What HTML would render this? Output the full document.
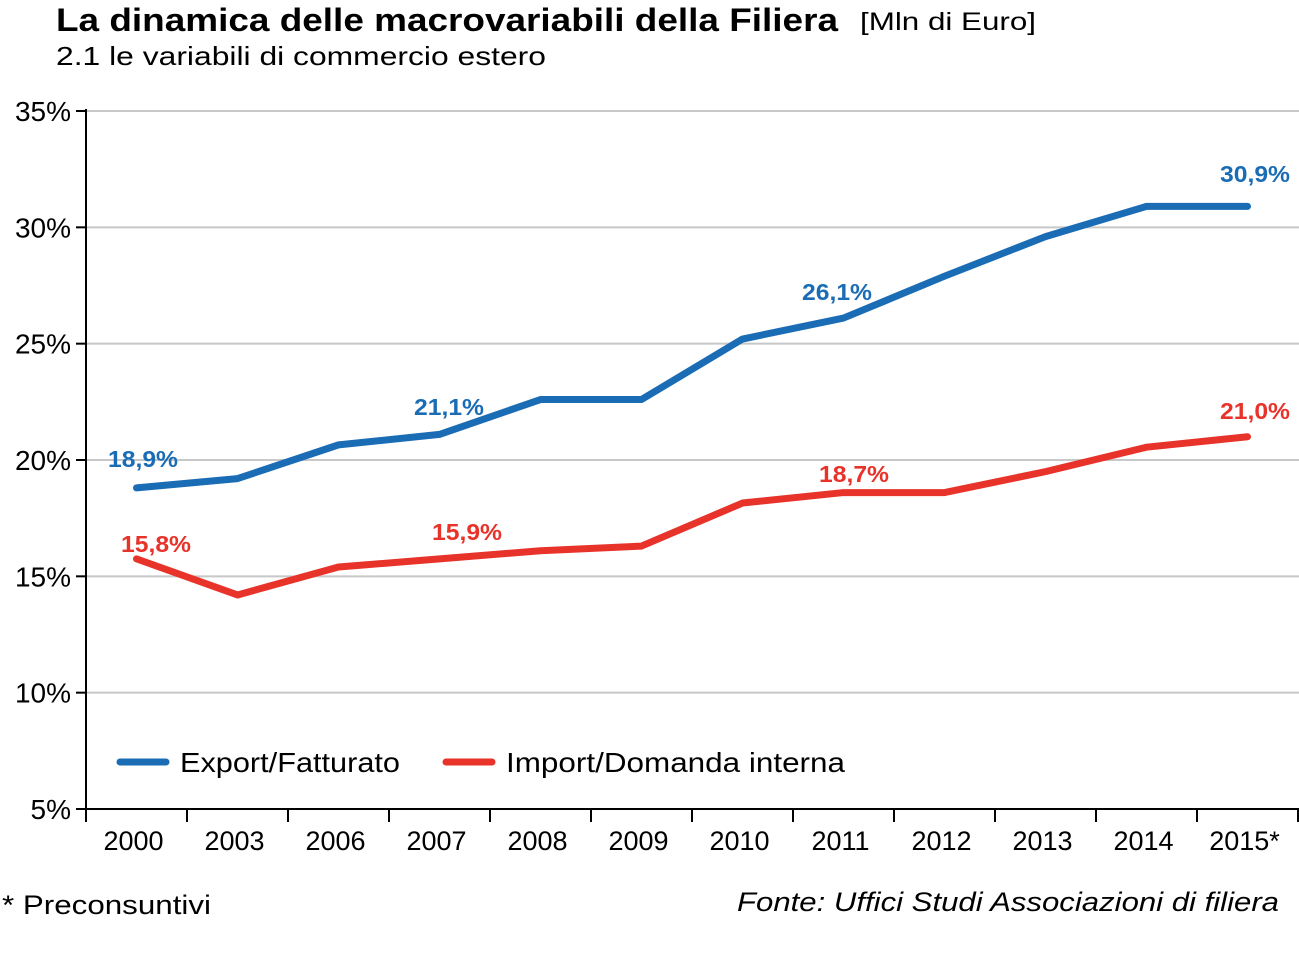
<!DOCTYPE html>
<html><head><meta charset="utf-8"><style>
body{margin:0;background:#fff;font-family:"Liberation Sans",sans-serif}
</style></head><body>
<svg width="1299" height="957" viewBox="0 0 1299 957" xmlns="http://www.w3.org/2000/svg" font-family="Liberation Sans, sans-serif">
<text x="56" y="31" font-size="32" font-weight="bold" textLength="782" lengthAdjust="spacingAndGlyphs">La dinamica delle macrovariabili della Filiera</text>
<text x="860" y="30" font-size="25" textLength="176" lengthAdjust="spacingAndGlyphs">[Mln di Euro]</text>
<text x="56" y="65" font-size="26" textLength="490" lengthAdjust="spacingAndGlyphs">2.1  le variabili di commercio estero</text>
<g id="grid"></g>
<g id="axes"></g>
<g id="series"></g>
<g>
<line x1="120" y1="762" x2="166" y2="762" stroke="#1a6cb5" stroke-width="7" stroke-linecap="round"/>
<text x="180" y="772" font-size="28" textLength="220" lengthAdjust="spacingAndGlyphs">Export/Fatturato</text>
<line x1="446" y1="762" x2="492" y2="762" stroke="#e8332a" stroke-width="7" stroke-linecap="round"/>
<text x="506" y="772" font-size="28" textLength="339" lengthAdjust="spacingAndGlyphs">Import/Domanda interna</text>
</g>
<text x="2" y="914" font-size="27" textLength="209" lengthAdjust="spacingAndGlyphs">* Preconsuntivi</text>
<text x="737" y="911" font-size="27" font-style="italic" textLength="542" lengthAdjust="spacingAndGlyphs">Fonte: Uffici Studi Associazioni di filiera</text>
</svg>
<script>
const categories=["2000","2003","2006","2007","2008","2009","2010","2011","2012","2013","2014","2015*"];
const exportVals=[18.8,19.2,20.65,21.1,22.6,22.6,25.2,26.1,27.9,29.6,30.9,30.9];
const importVals=[15.75,14.2,15.4,15.75,16.1,16.3,18.15,18.6,18.6,19.5,20.55,21.0];
const yTicks=[5,10,15,20,25,30,35];
const exportLabelIdx=[0,3,7,11];
const exportLabelText=["18,9%","21,1%","26,1%","30,9%"];
const importLabelIdx=[0,3,7,11];
const importLabelText=["15,8%","15,9%","18,7%","21,0%"];
const exportLabelPos=[[143,467],[449,415],[837,300],[1255,182]];
const importLabelPos=[[156,552],[467,540],[854,482],[1255,419]];
const NS="http://www.w3.org/2000/svg";
const L=86,R=1298,T=111,B=809,bw=(R-L)/categories.length;
const y=v=>B-(v-5)/30*(B-T);
const x=i=>L+bw*(i+0.5);
function mk(p,tag,at){const e=document.createElementNS(NS,tag);for(const k in at)e.setAttribute(k,at[k]);p.appendChild(e);return e;}
const grid=document.getElementById('grid'),axes=document.getElementById('axes'),ser=document.getElementById('series');
yTicks.forEach(t=>{
 if(t>5){const g=mk(grid,'line',{x1:L,x2:1299,y1:y(t),y2:y(t),stroke:'#c8c8c8','stroke-width':2});
 
 }
 const tk=mk(axes,'line',{x1:L-10,x2:L,y1:y(t),y2:y(t),stroke:'#000','stroke-width':2});
 
 
 const tx=mk(axes,'text',{x:71,y:y(t)+10,'font-size':28,'text-anchor':'end'});tx.textContent=t+'%';
 
 
});
const ya=mk(axes,'line',{x1:L,x2:L,y1:T-2,y2:B,stroke:'#000','stroke-width':2});


const xa=mk(axes,'line',{x1:L,x2:1299,y1:B,y2:B,stroke:'#000','stroke-width':2});


for(let i=0;i<=categories.length;i++){const t=mk(axes,'line',{x1:L+bw*i,x2:L+bw*i,y1:B,y2:B+13,stroke:'#000','stroke-width':2});
 
 }
categories.forEach((c,i)=>{const t=mk(axes,'text',{x:x(i)-3,y:B+41,'font-size':27,'text-anchor':'middle'});t.textContent=c;
 
 });
function line(vals,col,name){const p=mk(ser,'polyline',{points:vals.map((v,i)=>x(i)+','+y(v)).join(' '),fill:'none',stroke:col,'stroke-width':7,'stroke-linejoin':'round','stroke-linecap':'round'});
 
 }
line(exportVals,'#1a6cb5','export-line');
line(importVals,'#e8332a','import-line');
function labels(idx,txt,pos,vals,col,name){idx.forEach((k,j)=>{const dy=pos[j][1]-y(vals[k]);const t=mk(ser,'text',{x:pos[j][0],y:y(vals[k])+dy,'font-size':23,'font-weight':'bold',fill:col,'text-anchor':'middle',textLength:70,lengthAdjust:'spacingAndGlyphs'});t.textContent=txt[j];
 
 });}
labels(exportLabelIdx,exportLabelText,exportLabelPos,exportVals,'#1a6cb5','export-value-label');
labels(importLabelIdx,importLabelText,importLabelPos,importVals,'#e8332a','import-value-label');
</script>
</body></html>
